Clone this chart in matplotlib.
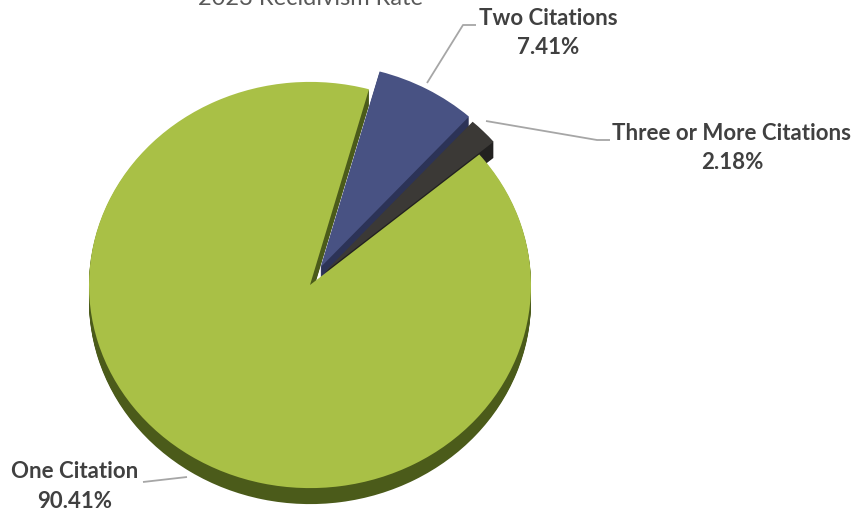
import matplotlib
matplotlib.use("Agg")
import matplotlib.pyplot as plt

# ---- data ----
categories = ["One Citation", "Two Citations", "Three or More Citations"]
values = [90.41, 7.41, 2.18]
pct_labels = ["90.41%", "7.41%", "2.18%"]
title = "2023 Recidivism Rate"

top_colors = ["#a9c046", "#485283", "#3b3936"]
side_colors = ["#4b5b1a", "#2c3357", "#222120"]

W, H = 856, 514
K = 0.919  # vertical squash of the tilted pie

fig = plt.figure(figsize=(W / 100, H / 100), dpi=100)
ax = fig.add_axes([0, 0, 1, 1])


def P(x, y):
    """pixel (from top-left) -> data coords"""
    return (x, (H - y) / K)


cx, cy = P(310, 285)
R = 221
explode = [0.0, 0.1 * R, 0.09 * R]
depth = 16  # px
start = 40

# side (depth) layers
for d in range(depth, 0, -1):
    ax.pie(values, colors=side_colors, startangle=start, counterclock=False,
           explode=explode, radius=R, center=(cx, cy - d / K),
           wedgeprops=dict(linewidth=0), frame=True)
# top face
ax.pie(values, colors=top_colors, startangle=start, counterclock=False,
       explode=explode, radius=R, center=(cx, cy),
       wedgeprops=dict(linewidth=0), frame=True)
ax.set_aspect("auto")
ax.set_xlim(0, W)
ax.set_ylim(0, H / K)
ax.axis("off")

font = ["Lato", "DejaVu Sans"]
tc = "#404040"
lc = "#a6a6a6"
fs = 16

# title (cut at top, as in the reference)
ax.text(*P(311, 5), title, ha="center", va="baseline", fontsize=17,
        color="#595959", family=font)

# leader lines
def leader(pts):
    xs, ys = zip(*[P(*p) for p in pts])
    ax.plot(xs, ys, color=lc, lw=1.3, solid_capstyle="butt")

leader([(427, 83), (463, 25), (476, 25)])
leader([(486, 121), (597, 140), (610, 140)])
leader([(187, 477), (143, 482)])

# labels
for name, pct, (x, y) in zip(categories, pct_labels,
                             [(75, 472), (548, 18), (732, 133)]):
    ax.text(*P(x, y), name, ha="center", va="center", fontsize=fs,
            weight="bold", color=tc, family=font)
    ax.text(*P(x, y + 29), pct, ha="center", va="center", fontsize=fs,
            weight="bold", color=tc, family=font)

fig.savefig("out.png", dpi=100)
